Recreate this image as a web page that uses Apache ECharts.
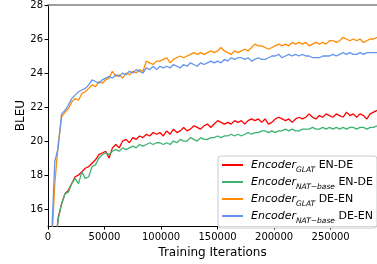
<!DOCTYPE html>
<html><head><meta charset="utf-8">
<script src="https://cdn.jsdelivr.net/npm/echarts@6/dist/echarts.min.js"></script>
<style>html,body{margin:0;padding:0;background:#fff}#c{width:377px;height:264px}</style>
</head><body><div id="c"></div>
<script>
const iterations = [3000,6000,9000,12000,15000,18000,21000,24000,27000,30000,33000,36000,39000,42000,45000,48000,51000,54000,57000,60000,63000,66000,69000,72000,75000,78000,81000,84000,87000,90000,93000,96000,99000,102000,105000,108000,111000,114000,117000,120000,123000,126000,129000,132000,135000,138000,141000,144000,147000,150000,153000,156000,159000,162000,165000,168000,171000,174000,177000,180000,183000,186000,189000,192000,195000,198000,201000,204000,207000,210000,213000,216000,219000,222000,225000,228000,231000,234000,237000,240000,243000,246000,249000,252000,255000,258000,261000,264000,267000,270000,273000,276000,279000,282000,285000,288000,291000];

const glatEnDe = [11.0,13.5,15.5,16.3,16.9,17.1,17.5,17.9,18.0,18.2,18.4,18.5,18.7,18.9,19.2,19.3,19.4,19.0,19.6,19.8,19.6,20.0,20.1,19.9,20.2,20.1,20.3,20.2,20.4,20.3,20.5,20.4,20.5,20.3,20.6,20.4,20.7,20.5,20.6,20.8,20.6,20.7,20.9,20.8,20.7,20.9,21.0,20.8,21.0,21.2,21.1,21.0,21.1,21.0,21.2,21.1,21.2,21.0,21.2,21.3,21.2,21.3,21.1,21.3,21.0,21.1,21.3,21.4,21.3,21.2,21.3,21.1,21.3,21.4,21.3,21.4,21.6,21.4,21.3,21.5,21.4,21.6,21.5,21.4,21.6,21.5,21.4,21.7,21.5,21.6,21.4,21.6,21.5,21.3,21.6,21.7,21.8];
const natEnDe = [11.0,13.5,15.4,16.3,16.9,17.0,17.5,17.8,17.5,18.2,17.8,17.9,18.5,18.6,19.0,19.2,19.3,19.2,19.4,19.5,19.4,19.6,19.5,19.6,19.7,19.6,19.8,19.7,19.8,19.9,19.8,19.9,19.9,19.8,19.9,19.8,20.0,19.9,20.1,20.0,20.0,20.2,20.1,20.0,20.2,20.1,20.1,20.2,20.2,20.3,20.2,20.3,20.3,20.4,20.3,20.4,20.3,20.4,20.5,20.4,20.5,20.5,20.6,20.6,20.5,20.6,20.5,20.6,20.6,20.7,20.6,20.7,20.6,20.6,20.7,20.7,20.7,20.8,20.7,20.7,20.8,20.7,20.8,20.7,20.8,20.7,20.8,20.7,20.8,20.8,20.7,20.8,20.8,20.7,20.8,20.8,20.9];
const glatDeEn = [13.5,17.5,19.8,21.4,21.7,21.9,22.3,22.5,22.4,22.8,22.9,23.1,23.3,23.2,23.5,23.4,23.6,23.7,24.1,23.8,23.9,23.7,24.0,23.9,24.1,24.0,24.2,24.1,24.7,24.6,24.5,24.7,24.7,24.8,24.9,24.6,24.8,24.9,25.0,24.9,25.0,25.1,25.2,25.1,25.2,25.1,25.2,25.3,25.2,25.3,25.5,25.3,25.2,25.1,25.3,25.2,25.3,25.4,25.3,25.5,25.7,25.6,25.6,25.5,25.4,25.5,25.6,25.7,25.6,25.7,25.6,25.8,25.7,25.8,25.7,25.8,25.6,25.7,25.8,25.7,25.8,25.7,25.9,25.9,25.8,25.9,26.1,26.0,25.9,26.0,25.9,26.0,25.8,25.9,26.0,26.0,26.1];
const natDeEn = [14.0,18.8,19.6,21.6,21.8,22.1,22.5,22.7,22.9,23.0,23.1,23.3,23.6,23.5,23.4,23.6,23.7,23.8,23.7,23.9,23.8,24.0,23.9,24.1,24.0,24.2,24.1,24.0,24.3,24.2,24.4,24.2,24.4,24.3,24.4,24.3,24.5,24.4,24.3,24.5,24.4,24.6,24.5,24.4,24.6,24.5,24.6,24.7,24.6,24.7,24.6,24.8,24.7,24.9,24.8,24.9,24.9,24.8,24.9,24.7,24.8,24.9,24.8,24.8,24.9,25.0,25.0,25.1,24.9,25.0,25.1,25.0,25.1,25.0,25.1,25.0,25.0,24.9,24.9,24.9,25.0,25.0,25.0,25.1,25.0,25.1,25.2,25.1,25.2,25.1,25.1,25.2,25.1,25.2,25.2,25.2,25.2];

const xTicks = [0,50000,100000,150000,200000,250000];
const yTicks = [16,18,20,22,24,26,28];

const seriesDefs = [
  {name:'GLAT EN-DE', data: glatEnDe, color:'#ff0000'},
  {name:'NAT EN-DE', data: natEnDe, color:'#3cb371'},
  {name:'GLAT DE-EN', data: glatDeEn, color:'#ff8c00'},
  {name:'NAT DE-EN', data: natDeEn, color:'#6495ed'}
];

const font = 'DejaVu Sans';
const chart = echarts.init(document.getElementById('c'), null, {renderer:'canvas'});
chart.setOption({
  animation:false,
  textStyle:{fontFamily:font},
  grid:{left:48, right:0, top:5, bottom:36},
  xAxis:[{
    type:'value', min:0, max:291000,
    name:'Training Iterations', nameLocation:'middle', nameGap:18,
    nameTextStyle:{fontFamily:font, fontSize:12, color:'#000'},
    axisLine:{show:true, onZero:false, lineStyle:{color:'#000', width:1}},
    axisTick:{show:true, length:3.5, customValues:xTicks, lineStyle:{color:'#000'}},
    axisLabel:{customValues:xTicks, fontFamily:font, fontSize:10, color:'#000', margin:6,
      formatter: v => String(v)},
    splitLine:{show:false}
  },{
    type:'value', position:'top', min:0, max:291000,
    axisLine:{show:true, lineStyle:{color:'#808080', width:1.5}},
    axisTick:{show:false}, axisLabel:{show:false}, splitLine:{show:false}
  }],
  yAxis:{
    type:'value', min:15, max:28,
    name:'BLEU', nameLocation:'middle', nameGap:21, nameRotate:90, nameMoveOverlap:false,
    nameTextStyle:{fontFamily:font, fontSize:12, color:'#000'},
    axisLine:{show:true, onZero:false, lineStyle:{color:'#000', width:1}},
    axisTick:{show:true, length:3.5, customValues:yTicks, lineStyle:{color:'#000'}},
    axisLabel:{customValues:yTicks, fontFamily:font, fontSize:10, color:'#000', margin:5},
    splitLine:{show:false}
  },
  legend:{
    orient:'vertical', left:218, top:156,
    itemWidth:21, itemHeight:8, itemGap:3,
    padding:[4,4,3,4],
    backgroundColor:'rgba(255,255,255,0.85)',
    borderColor:'#cccccc', borderWidth:1, borderRadius:3,
    icon:'path://M0,0 L21,0 L21,2 L0,2 Z',
    data: seriesDefs.map(s=>s.name),
    formatter: function(name){
      const parts = name.split(' ');
      const sub = parts[0]==='GLAT' ? 'GLAT' : 'NAT\u2212base';
      return '{it|Encoder}{sub|' + sub + '}{n| ' + parts[1] + '}';
    },
    textStyle:{
      fontFamily:font, fontSize:11, color:'#000',
      rich:{
        it:{fontFamily:font, fontSize:11, fontStyle:'italic', color:'#000', verticalAlign:'bottom', lineHeight:12, padding:[0,0,0,3]},
        sub:{fontFamily:font, fontSize:7.5, fontStyle:'italic', color:'#000', verticalAlign:'bottom', lineHeight:8, padding:[0,0,-3,0]},
        n:{fontFamily:font, fontSize:11, color:'#000', verticalAlign:'bottom', lineHeight:12}
      }
    }
  },
  series: seriesDefs.map(s=>({
    name:s.name, type:'line', showSymbol:false, symbol:'none',
    clip:true,
    data: iterations.map((it,i)=>[it, s.data[i]]),
    lineStyle:{color:s.color, width:1.3},
    itemStyle:{color:s.color}
  }))
});
</script></body></html>
